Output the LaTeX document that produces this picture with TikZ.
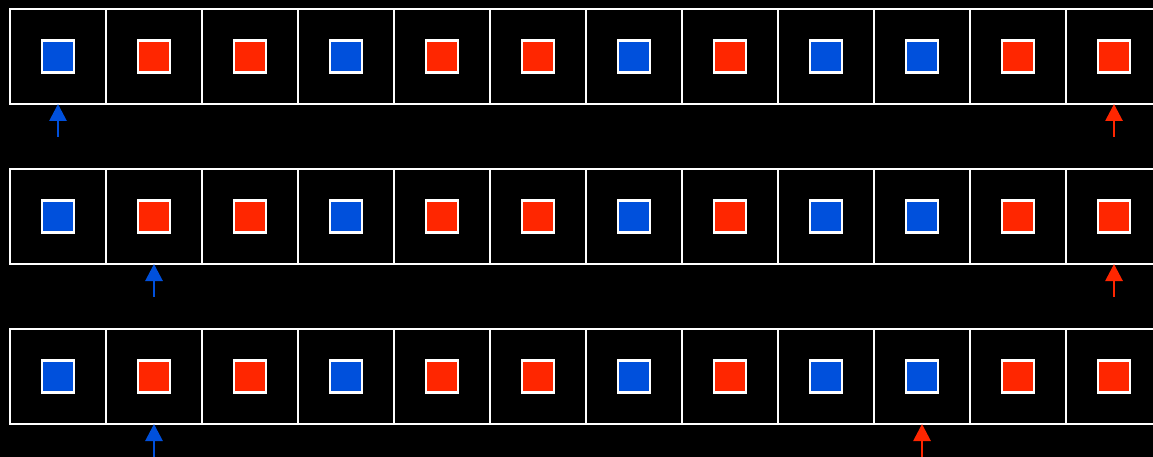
\documentclass[tikz,border=0pt]{standalone}
\usetikzlibrary{arrows.meta}
\definecolor{cblue}{RGB}{0,80,220}
\definecolor{cred}{RGB}{255,38,0}
\begin{document}
\begin{tikzpicture}[x=1pt,y=-1pt,
  cell/.style={draw=white,line width=2.8pt,minimum width=96pt,minimum height=95pt,inner sep=0pt,outer sep=0pt,fill=black},
  Bsq/.style={draw=white,line width=2.4pt,fill=cblue,minimum size=32pt,inner sep=0pt,outer sep=0pt},
  Rsq/.style={draw=white,line width=2.4pt,fill=cred,minimum size=32pt,inner sep=0pt,outer sep=0pt},
  barrow/.style={draw=cblue,line width=2.8pt,-{Triangle[width=17pt,length=17pt,fill=cblue]}},
  rarrow/.style={draw=cred,line width=2.8pt,-{Triangle[width=17pt,length=17pt,fill=cred]}}]
\fill[black] (0,0) rectangle (1153,457);
\useasboundingbox (0,0) rectangle (1153,457);
\clip (0,0) rectangle (1153,457);
\foreach \r/\top in {1/9,2/169,3/329}{
  \foreach \c [count=\i from 0] in {B,R,R,B,R,R,B,R,B,B,R,R}{
    \node[cell] (c\r-\i) at ({58+96*\i},{\top+47.5}) {};
    \node[\c sq] (s\r-\i) at (c\r-\i.center) {};
  }
}
\coordinate (a1b) at (58,137);
\coordinate (a1r) at (1114,137);
\coordinate (a2b) at (154,297);
\coordinate (a2r) at (1114,297);
\coordinate (a3b) at (154,462);
\coordinate (a3r) at (922,462);
\draw[barrow] (a1b) -- (c1-0.south);
\draw[rarrow] (a1r) -- (c1-11.south);
\draw[barrow] (a2b) -- (c2-1.south);
\draw[rarrow] (a2r) -- (c2-11.south);
\draw[barrow] (a3b) -- (c3-1.south);
\draw[rarrow] (a3r) -- (c3-9.south);
\end{tikzpicture}
\end{document}
